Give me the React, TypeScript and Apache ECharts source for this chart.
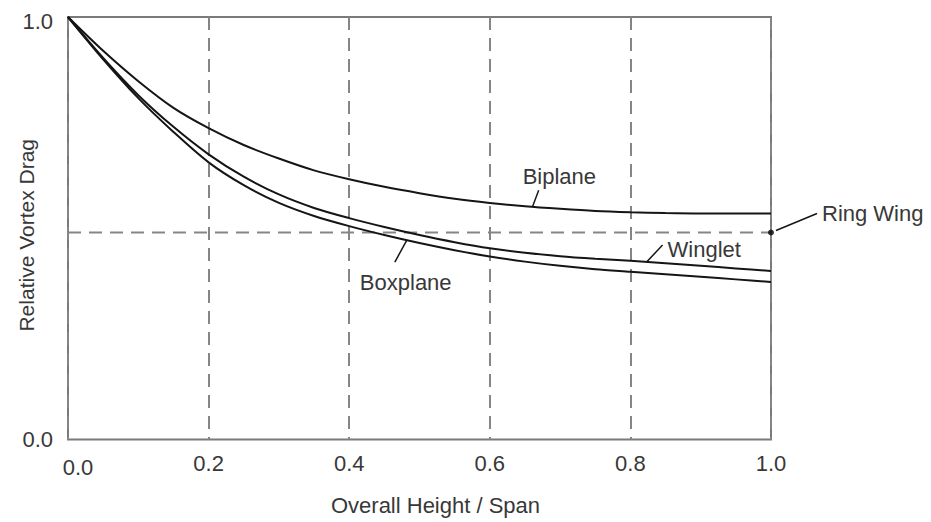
import React, { useEffect, useRef } from "react";
import * as echarts from "echarts";

// Overall height / span, sampled every 0.05
const spanRatio = [
  0, 0.05, 0.1, 0.15, 0.2, 0.25, 0.3, 0.35, 0.4, 0.45, 0.5,
  0.55, 0.6, 0.65, 0.7, 0.75, 0.8, 0.85, 0.9, 0.95, 1.0,
];
// Relative vortex drag for each configuration
const biplane = [
  1.0, 0.92, 0.848, 0.785, 0.737, 0.697, 0.665, 0.637, 0.616, 0.598, 0.583,
  0.57, 0.56, 0.552, 0.546, 0.541, 0.538, 0.536, 0.535, 0.535, 0.535,
];
const winglet = [
  1.0, 0.903, 0.815, 0.74, 0.675, 0.622, 0.58, 0.548, 0.524, 0.503, 0.484,
  0.467, 0.4525, 0.442, 0.434, 0.428, 0.423, 0.417, 0.411, 0.405, 0.399,
];
const boxplane = [
  1.0, 0.9, 0.808, 0.728, 0.656, 0.602, 0.56, 0.529, 0.505, 0.484, 0.465,
  0.448, 0.433, 0.421, 0.411, 0.403, 0.397, 0.391, 0.385, 0.379, 0.373,
];
const ringWing = 0.49;

const xTicks = [0, 0.2, 0.4, 0.6, 0.8, 1.0];
const yTicks = [0, 1.0];

// Callouts: anchor point on a curve (data space) and pixel offsets for leader and text
const callouts = [
  { text: "Biplane", at: [0.661, 0.552], lineFrom: [0, 0], lineTo: [6, -16], textAt: [-10, -30] },
  { text: "Boxplane", at: [0.482, 0.472], lineFrom: [0, 0], lineTo: [-12, 22], textAt: [-47, 42] },
  { text: "Winglet", at: [0.823, 0.42], lineFrom: [0, 0], lineTo: [16, -17], textAt: [21, -13] },
  { text: "Ring Wing", at: [1.0, ringWing], lineFrom: [5, -2], lineTo: [46, -19], textAt: [51, -19] },
];

const FONT = "'Liberation Sans', Arial, Helvetica, sans-serif";
const TEXT = "#383838";
const CURVE = "#151515";
const GRIDC = "#858585";

const pairs = (ys: number[]) => spanRatio.map((x, i) => [x, ys[i]]);

export default function App() {
  const ref = useRef<HTMLDivElement>(null);

  useEffect(() => {
    if (!ref.current) return;
    const chart = echarts.init(ref.current, undefined, { renderer: "svg" });

    const curve = (name: string, ys: number[]) => ({
      name,
      type: "line",
      data: pairs(ys),
      smooth: 0.3,
      showSymbol: false,
      symbol: "none",
      lineStyle: { color: CURVE, width: 2 },
      z: 5,
    });

    chart.setOption({
      animation: false,
      grid: {
        left: 68,
        right: 160,
        top: 17,
        bottom: 82.5,
        containLabel: false,
        outerBoundsMode: "none",
        show: true,
        borderColor: "#7a7a7a",
        borderWidth: 2,
        backgroundColor: "transparent",
      },
      xAxis: {
        type: "value",
        min: 0,
        max: 1,
        interval: 0.2,
        name: "Overall Height / Span",
        nameLocation: "middle",
        nameGap: 55,
        nameMoveOverlap: false,
        nameTextStyle: { fontFamily: FONT, fontSize: 22, color: TEXT, padding: [0, 0, 0, 32] },
        axisLine: { show: false },
        axisTick: { show: false },
        splitLine: { show: true, lineStyle: { color: GRIDC, width: 2, type: [13, 8] } },
        axisLabel: {
          margin: 13,
          fontFamily: FONT,
          fontSize: 22,
          color: TEXT,
          formatter: (v: number) => {
            const t = xTicks.find((k) => Math.abs(k - v) < 1e-9);
            const s = (t ?? v).toFixed(1);
            return v === 0 ? `{first|${s}}` : s;
          },
          rich: {
            first: { fontFamily: FONT, fontSize: 22, color: TEXT, padding: [4, 0, 0, 20] },
          },
        },
      },
      yAxis: {
        type: "value",
        min: 0,
        max: 1,
        interval: 1,
        name: "Relative Vortex Drag",
        nameLocation: "middle",
        nameGap: 31,
        nameMoveOverlap: false,
        nameTextStyle: { fontFamily: FONT, fontSize: 21, color: TEXT, padding: [0, 14, 0, 0] },
        axisLine: { show: false },
        axisTick: { show: false },
        splitLine: { show: false },
        axisLabel: {
          margin: 15,
          fontFamily: FONT,
          fontSize: 22,
          color: TEXT,
          formatter: (v: number) => {
            const t = yTicks.find((k) => Math.abs(k - v) < 1e-9);
            const s = (t ?? v).toFixed(1);
            return v === 1 ? `{top|${s}}` : s;
          },
          rich: {
            top: { fontFamily: FONT, fontSize: 22, color: TEXT, padding: [8, 0, 0, 0] },
          },
        },
      },
      series: [
        {
          name: "Ring Wing",
          type: "line",
          data: [
            [0, ringWing],
            [1, ringWing],
          ],
          showSymbol: false,
          symbol: "none",
          lineStyle: { color: GRIDC, width: 2, type: [13, 8] },
          z: 2,
        },
        curve("Biplane", biplane),
        curve("Winglet", winglet),
        curve("Boxplane", boxplane),
        {
          name: "Ring Wing point",
          type: "scatter",
          data: [[1, ringWing]],
          symbol: "circle",
          symbolSize: 6,
          itemStyle: { color: "#000" },
          z: 6,
        },
      ],
    });

    const graphics: any[] = [];
    callouts.forEach((c) => {
      const p = chart.convertToPixel({ gridIndex: 0 }, c.at) as number[];
      graphics.push({
        type: "line",
        z: 10,
        shape: {
          x1: p[0] + c.lineFrom[0],
          y1: p[1] + c.lineFrom[1],
          x2: p[0] + c.lineTo[0],
          y2: p[1] + c.lineTo[1],
        },
        style: { stroke: CURVE, lineWidth: 1.5 },
      });
      graphics.push({
        type: "text",
        z: 10,
        x: p[0] + c.textAt[0],
        y: p[1] + c.textAt[1],
        style: {
          text: c.text,
          fontFamily: FONT,
          fontSize: 22,
          fill: TEXT,
          align: "left",
          verticalAlign: "middle",
        },
      });
    });
    chart.setOption({ graphic: graphics });

    return () => chart.dispose();
  }, []);

  return (
    <div
      ref={ref}
      style={{ position: "absolute", left: 0, top: 0, width: 931, height: 522, background: "#fff" }}
    />
  );
}
